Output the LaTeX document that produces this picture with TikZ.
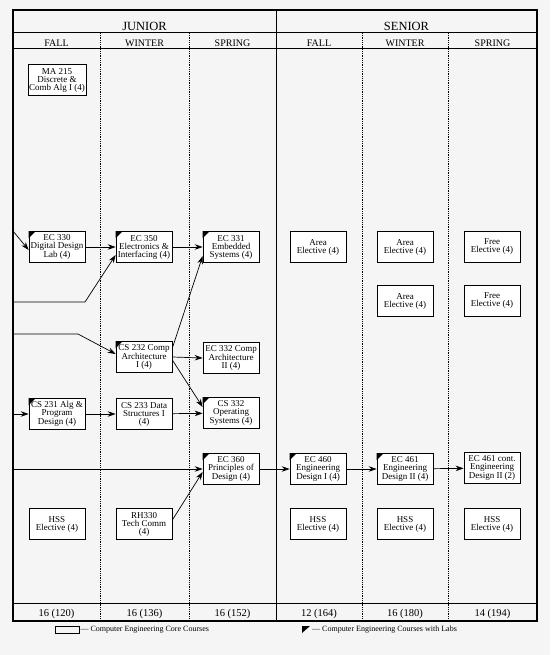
\documentclass[tikz,border=0pt]{standalone}
\usepackage{fontspec}
\setmainfont{Liberation Serif}
\usetikzlibrary{arrows.meta}

\begin{document}
\begin{tikzpicture}[x=1pt,y=-1pt,>={Stealth[length=8pt,width=5.5pt]},
    course/.style={draw,fill=white,line width=0.7pt,align=center,inner sep=1pt,
      minimum width=56pt,minimum height=31pt,
      font=\fontsize{9}{8}\selectfont},
    yearhd/.style={anchor=base,font=\fontsize{12.5}{14}\selectfont},
    termhd/.style={anchor=base,font=\fontsize{10}{12}\selectfont},
    total/.style={anchor=base,font=\fontsize{10.5}{12}\selectfont},
    keytxt/.style={anchor=west,inner sep=1pt,font=\fontsize{8}{9}\selectfont},
    link/.style={->,line width=0.7pt}]
  \fill[black!4] (0,0) rectangle (550,655);
  \useasboundingbox (0,0) rectangle (550,655);

  % table frame
  \draw[line width=1.2pt] (13,10) rectangle (537,621);
  \draw[line width=1pt] (13,33) -- (537,33) (13,49) -- (537,49) (13,603) -- (537,603);
  \draw[line width=1pt] (276,10) -- (276,621);
  \foreach \x in {100,189,362,448}{\draw[densely dotted,line width=0.8pt] (\x,33) -- (\x,621);}
  \node[yearhd] (junior) at (144.5,31) {JUNIOR};
  \node[yearhd] (senior) at (406.5,31) {SENIOR};
  \foreach \x/\t/\n in {56.5/FALL/jf,144.5/WINTER/jw,232.5/SPRING/js,319/FALL/sf,405/WINTER/sw,492.5/SPRING/ss}{
    \node[termhd] (\n) at (\x,47) {\t};
  }
  \foreach \x/\t/\n in {56.5/16 (120)/tjf,144.5/16 (136)/tjw,232.5/16 (152)/tjs,319/12 (164)/tsf,405/16 (180)/tsw,492.5/14 (194)/tss}{
    \node[total] (\n) at (\x,616) {\t};
  }

  % courses
  \node[course] (ma215) at (57,80) {MA 215\\Discrete \&\\Comb Alg I (4)};
  \node[course] (ec330) at (57,247) {EC 330\\Digital Design\\Lab (4)};
  \node[course] (ec350) at (144,247) {EC 350\\Electronics \&\\Interfacing (4)};
  \node[course] (ec331) at (231,247) {EC 331\\Embedded\\Systems (4)};
  \node[course] (area1) at (318,247) {Area\\Elective (4)};
  \node[course] (area2) at (405,247) {Area\\Elective (4)};
  \node[course] (free1) at (492,247) {Free\\Elective (4)};
  \node[course] (area3) at (405,301) {Area\\Elective (4)};
  \node[course] (free2) at (492,301) {Free\\Elective (4)};
  \node[course] (cs232) at (144,357) {CS 232 Comp\\Architecture\\I (4)};
  \node[course] (ec332) at (231,358) {EC 332 Comp\\Architecture\\II (4)};
  \node[course] (cs231) at (57,414) {CS 231 Alg \&\\Program\\Design (4)};
  \node[course] (cs233) at (144,414) {CS 233 Data\\Structures I\\(4)};
  \node[course] (cs332) at (231,413) {CS 332\\Operating\\Systems (4)};
  \node[course] (ec360) at (231,469) {EC 360\\Principles of\\Design (4)};
  \node[course] (ec460) at (318,469) {EC 460\\Engineering\\Design I (4)};
  \node[course] (ec461) at (405,469) {EC 461\\Engineering\\Design II (4)};
  \node[course] (ec461c) at (492,468) {EC 461 cont.\\Engineering\\Design II (2)};
  \node[course] (hss1) at (57,524) {HSS\\Elective (4)};
  \node[course] (rh330) at (144,524) {RH330\\Tech Comm\\(4)};
  \foreach \x/\n in {318/hss2,405/hss3,492/hss4}{
    \node[course] (\n) at (\x,524) {HSS\\Elective (4)};
  }
  % lab corners
  \foreach \n in {ec330,ec350,ec331,cs232,cs231,cs332,ec360,ec460,ec461}{
    \fill (\n.north west) -- ([xshift=7pt]\n.north west) -- ([yshift=-7pt]\n.north west) -- cycle;
  }

  % prerequisites
  \coordinate (in1) at (13,231);
  \coordinate (in2) at (13,302);
  \coordinate (bend2) at (85,302);
  \coordinate (in3) at (13,334);
  \coordinate (bend3) at (78,334);
  \coordinate (in4) at (13,414);
  \coordinate (in5) at (13,469);
  \draw[link] (in1) -- ([yshift=-3pt]ec330.west);
  \draw[link] (in2) -- (bend2) -- ([yshift=-8pt]ec350.west);
  \draw[link] (in3) -- (bend3) -- ([yshift=3pt]cs232.west);
  \draw[link] (in4) -- (cs231);
  \draw[link] (in5) -- (ec360);
  \draw[link] (ec330) -- (ec350);
  \draw[link] (ec350) -- (ec331);
  \draw[link] ([yshift=9pt]cs232.east) -- ([yshift=-9pt]ec331.west);
  \draw[link] (cs232.east) -- (ec332.west);
  \draw[link] ([yshift=-3pt]cs232.east) -- ([yshift=6pt]cs332.west);
  \draw[link] (cs231) -- (cs233);
  \draw[link] (cs233) -- (cs332);
  \draw[link] ([yshift=4pt]rh330.east) -- ([yshift=-3pt]ec360.west);
  \draw[link] (ec360) -- (ec460);
  \draw[link] (ec460) -- (ec461);
  \draw[link] (ec461) -- (ec461c);

  % key
  \node[draw,line width=0.7pt,minimum width=24pt,minimum height=7pt,inner sep=0pt] (corebox) at (67,629.5) {};
  \node[keytxt] (coretxt) at (corebox.east) {--- Computer Engineering Core Courses};
  \coordinate (labkey) at (302,626);
  \fill (labkey) -- ++(8,0) -- ++(-8,7) -- cycle;
  \node[keytxt] (labtxt) at (311,629.5) {--- Computer Engineering Courses with Labs};
\end{tikzpicture}
\end{document}
